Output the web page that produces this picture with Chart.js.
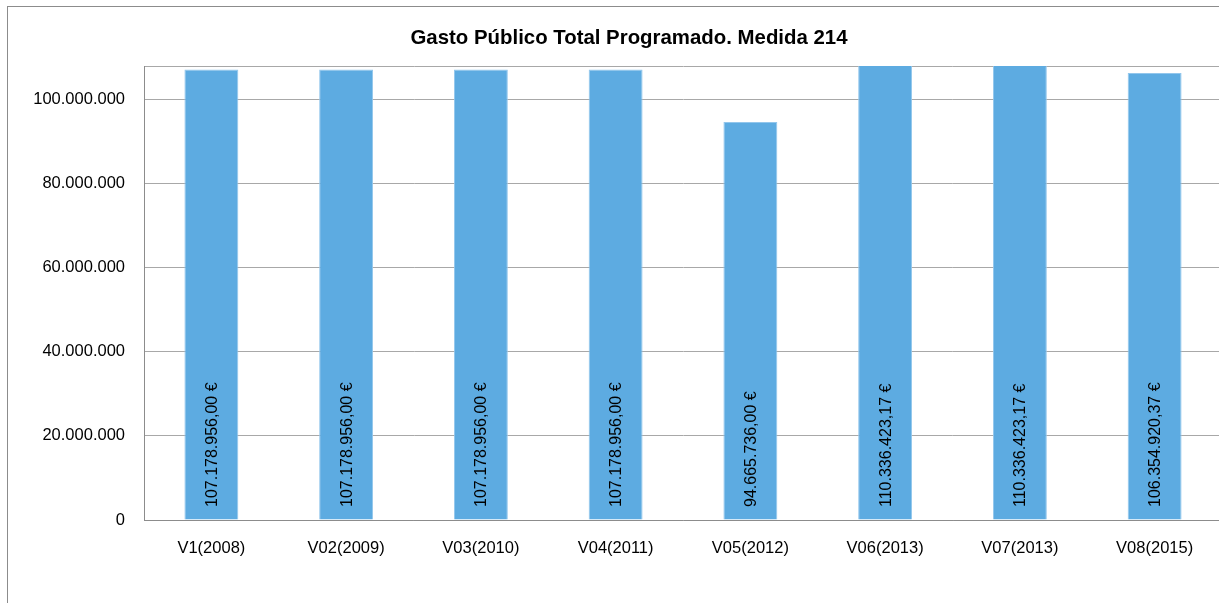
<!DOCTYPE html>
<html>
<head>
<meta charset="utf-8">
<script src="https://cdn.jsdelivr.net/npm/chart.js@4/dist/chart.umd.min.js"></script>
<style>
    html, body { margin: 0; padding: 0; background: #fff; overflow: hidden; }
    #frame {
        position: absolute; left: 7px; top: 6px;
        width: 1242px; height: 620px;
        border: 1px solid #8c8c8c;
    }
    canvas { display: block; }
</style>
</head>
<body>
<div id="frame"><canvas id="gastoChart" width="1242" height="620"></canvas></div>
<script>
// Versions of the programme
const versions = ['V1(2008)', 'V02(2009)', 'V03(2010)', 'V04(2011)', 'V05(2012)', 'V06(2013)', 'V07(2013)', 'V08(2015)'];

// Total public expenditure per version (EUR)
const gasto = [107178956.00, 107178956.00, 107178956.00, 107178956.00, 94665736.00, 110336423.17, 110336423.17, 106354920.37];

// Y axis range and tick values
const yMin = 0;
const yMax = 108000000;
const yTicks = [0, 20000000, 40000000, 60000000, 80000000, 100000000];

const chartTitle = 'Gasto Público Total Programado. Medida 214';
const fontFamily = '"Liberation Sans", Arial, sans-serif';

// Spanish style number grouping: 107.178.956,00
function groupThousands(intStr) {
    return intStr.replace(/\B(?=(\d{3})+(?!\d))/g, '.');
}
function formatEuro(v) {
    const parts = v.toFixed(2).split('.');
    return groupThousands(parts[0]) + ',' + parts[1] + ' \u20AC';
}

// Title centred on the whole frame (the plot runs off to the right)
const frameTitle = {
    id: 'frameTitle',
    afterDraw(chart) {
        const ctx = chart.ctx;
        ctx.save();
        ctx.font = 'bold 20.4px ' + fontFamily;
        ctx.fillStyle = '#000';
        ctx.textAlign = 'center';
        ctx.textBaseline = 'middle';
        ctx.fillText(chartTitle, chart.width / 2, 31);
        ctx.restore();
    }
};

// Draw the values rotated inside each bar, starting near the base
const barLabels = {
    id: 'barLabels',
    afterDatasetsDraw(chart) {
        const ctx = chart.ctx;
        const meta = chart.getDatasetMeta(0);
        const bottom = chart.chartArea.bottom;
        ctx.save();
        ctx.font = '16px ' + fontFamily;
        ctx.fillStyle = '#000';
        ctx.textAlign = 'left';
        ctx.textBaseline = 'middle';
        meta.data.forEach((bar, i) => {
            ctx.save();
            ctx.translate(bar.x + 1, bottom - 13);
            ctx.rotate(-Math.PI / 2);
            ctx.fillText(formatEuro(gasto[i]), 0, 0);
            ctx.restore();
        });
        ctx.restore();
    }
};

const ctx = document.getElementById('gastoChart').getContext('2d');
new Chart(ctx, {
    type: 'bar',
    data: {
        labels: versions,
        datasets: [{
            data: gasto,
            backgroundColor: '#5dabe1',
            borderColor: '#92c6ec',
            borderWidth: 1,
            barPercentage: 0.4,
            categoryPercentage: 1
        }]
    },
    options: {
        responsive: false,
        animation: false,
        layout: { padding: { top: 59, right: 28, bottom: 0, left: 0 } },
        scales: {
            x: {
                grid: { display: false, drawTicks: false },
                border: { color: '#8c8c8c', width: 1 },
                ticks: {
                    color: '#000',
                    padding: 19,
                    maxRotation: 0,
                    font: { family: fontFamily, size: 16.5 }
                },
                afterFit: scale => { scale.height = 107; }
            },
            y: {
                min: yMin,
                max: yMax,
                grid: { color: '#a8a8a8', drawTicks: false },
                border: { color: '#8c8c8c', width: 1 },
                ticks: {
                    color: '#000',
                    padding: 19,
                    font: { family: fontFamily, size: 16.5 },
                    callback: v => (yTicks.includes(v) ? groupThousands(String(v)) : '')
                },
                afterBuildTicks: scale => {
                    scale.ticks = yTicks.concat([yMax]).map(v => ({ value: v }));
                },
                afterFit: scale => { scale.width = 136; }
            }
        },
        plugins: {
            legend: { display: false },
            tooltip: { enabled: false },
            title: { display: false }
        }
    },
    plugins: [barLabels, frameTitle]
});
</script>
</body>
</html>
